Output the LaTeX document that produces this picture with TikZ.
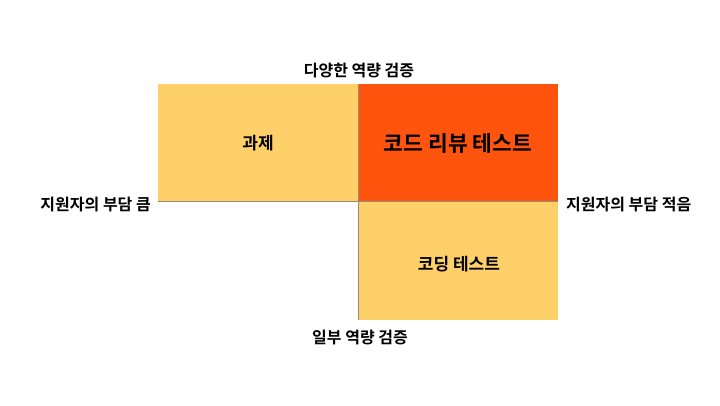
\documentclass[tikz,border=0pt]{standalone}
\usepackage{fontspec}
\setmainfont{Noto Sans CJK KR}[BoldFont={* Bold}]
\definecolor{softyellow}{RGB}{254,208,106}
\definecolor{hotorange}{RGB}{255,84,14}
\definecolor{axisgray}{RGB}{150,140,120}
\tikzset{
  cell/.style={draw=none, inner sep=0pt},
  axislabel/.style={font=\fontsize{16}{19}\selectfont\bfseries, text=black, inner sep=0pt},
  celllabel/.style={font=\fontsize{17}{20}\selectfont\bfseries, text=black, inner sep=0pt},
  biglabel/.style={font=\fontsize{21.5}{25}\selectfont\bfseries, text=black, inner sep=0pt},
  axisline/.style={draw=axisgray, line width=0.8pt}
}
\begin{document}
\begin{tikzpicture}[x=1pt,y=-1pt]
\useasboundingbox (0,0) rectangle (720,405);
% cells
\fill[softyellow] (158,84) rectangle (358.5,201.5);
\fill[hotorange] (358.5,84) rectangle (558,201.5);
\fill[softyellow] (358.5,201.5) rectangle (558,320);
% axes
\coordinate (vtop) at (358.5,84);
\coordinate (vbot) at (358.5,320);
\coordinate (hleft) at (158,201.5);
\coordinate (hright) at (558,201.5);
\draw[axisline] (vtop) -- (vbot);
\draw[axisline] (hleft) -- (hright);
% cell labels
\node[celllabel] (task) at (258,143) {과제};
\node[biglabel] (review) at (458,143) {코드 리뷰 테스트};
\node[celllabel] (coding) at (459,264) {코딩 테스트};
% axis labels
\node[axislabel] (top) at (359,71) {다양한 역량 검증};
\node[axislabel] (bottom) at (360,338) {일부 역량 검증};
\node[axislabel, anchor=east] (left) at (151,205) {지원자의 부담 큼};
\node[axislabel, anchor=west] (right) at (566,205) {지원자의 부담 적음};
\end{tikzpicture}
\end{document}
